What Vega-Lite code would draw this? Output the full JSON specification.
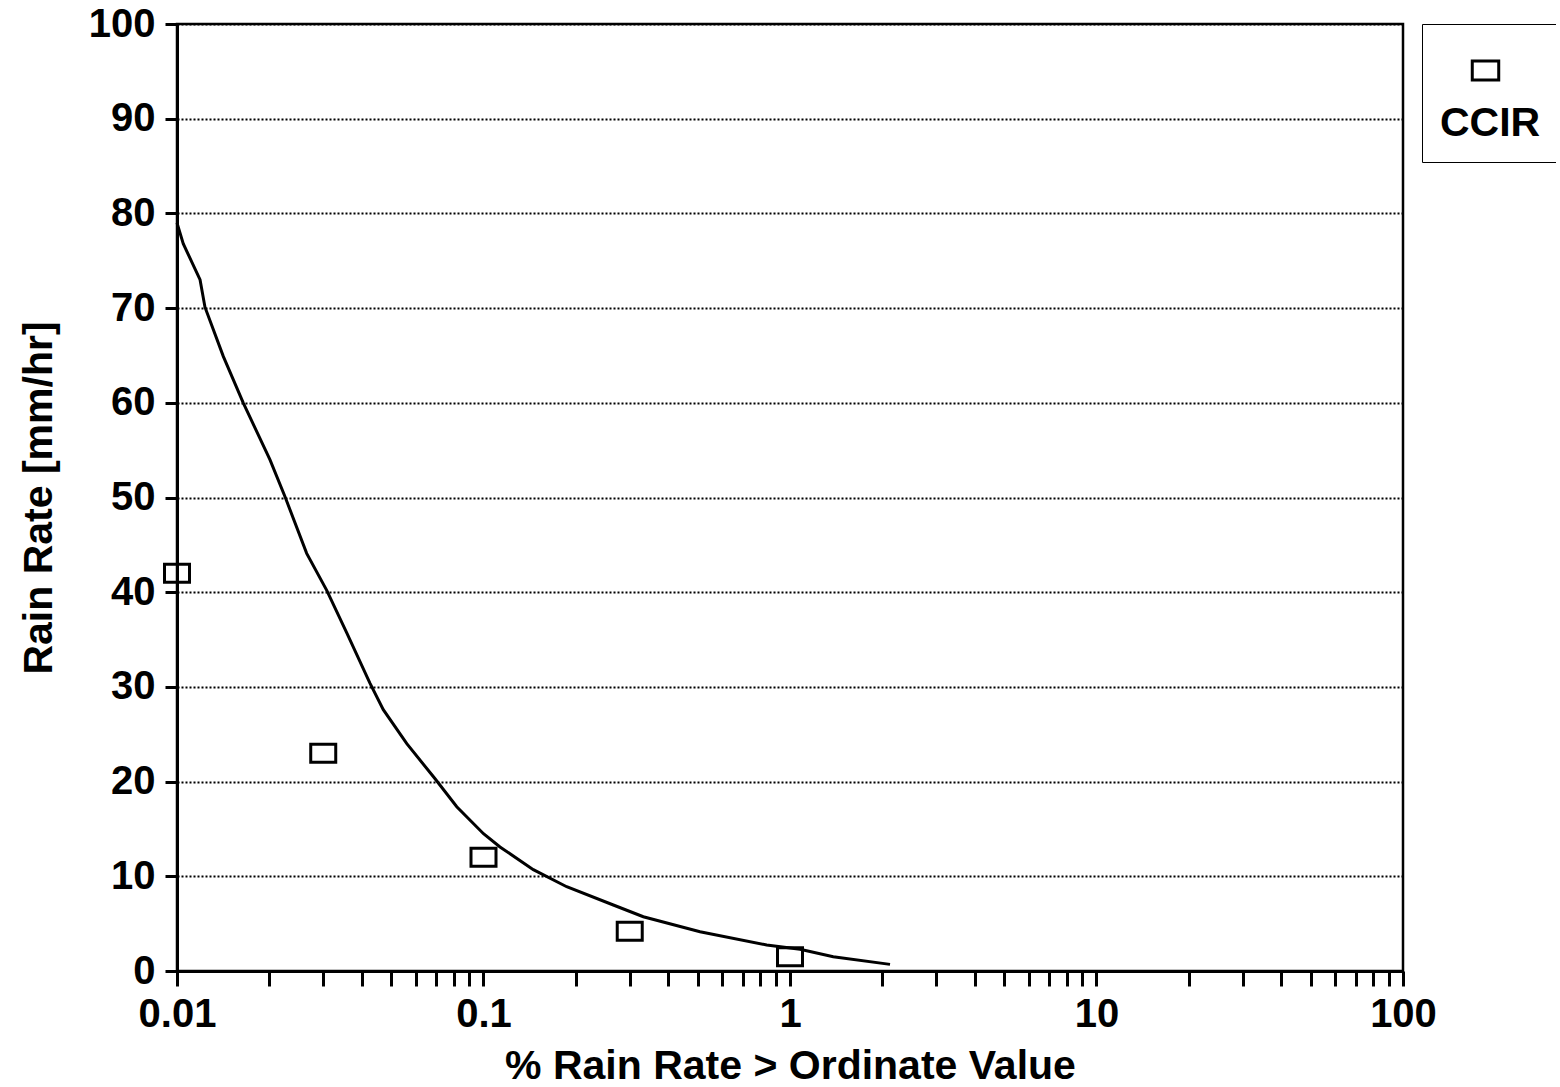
{
  "$schema": "https://vega.github.io/schema/vega-lite/v6.json",
  "width": 1226,
  "height": 947,
  "autosize": {"type": "none"},
  "padding": {"left": 177, "top": 24, "right": 153, "bottom": 116},
  "background": "white",
  "config": {
    "font": "Liberation Sans",
    "view": {"stroke": "black", "strokeWidth": 2.5},
    "axis": {
      "domainColor": "black",
      "domainWidth": 3,
      "tickColor": "black",
      "tickWidth": 3,
      "labelColor": "black",
      "labelFontSize": 40,
      "labelFontWeight": "bold",
      "titleColor": "black",
      "titleFontSize": 41,
      "titleFontWeight": "bold"
    }
  },
  "datasets": {
    "model": [
      {"pct": 0.01, "rate": 79.0},
      {"pct": 0.01048, "rate": 76.8},
      {"pct": 0.01189, "rate": 73.0},
      {"pct": 0.01234, "rate": 70.1},
      {"pct": 0.01416, "rate": 64.9},
      {"pct": 0.01645, "rate": 60.0},
      {"pct": 0.0201, "rate": 54.0},
      {"pct": 0.0225, "rate": 50.1},
      {"pct": 0.02649, "rate": 44.1},
      {"pct": 0.0308, "rate": 40.2},
      {"pct": 0.0358, "rate": 35.7},
      {"pct": 0.0426, "rate": 30.4},
      {"pct": 0.0471, "rate": 27.6},
      {"pct": 0.0562, "rate": 24.0},
      {"pct": 0.0695, "rate": 20.3},
      {"pct": 0.0818, "rate": 17.35},
      {"pct": 0.1, "rate": 14.5},
      {"pct": 0.1132, "rate": 13.1},
      {"pct": 0.1454, "rate": 10.7},
      {"pct": 0.1868, "rate": 8.9},
      {"pct": 0.2652, "rate": 6.97},
      {"pct": 0.3322, "rate": 5.73},
      {"pct": 0.5087, "rate": 4.15},
      {"pct": 0.8395, "rate": 2.75},
      {"pct": 1.078, "rate": 2.29},
      {"pct": 1.384, "rate": 1.51},
      {"pct": 2.12, "rate": 0.7}
    ],
    "ccir": [
      {"pct": 0.01, "rate": 42, "series": "CCIR"},
      {"pct": 0.03, "rate": 23, "series": "CCIR"},
      {"pct": 0.1, "rate": 12, "series": "CCIR"},
      {"pct": 0.3, "rate": 4.2, "series": "CCIR"},
      {"pct": 1, "rate": 1.5, "series": "CCIR"}
    ]
  },
  "encoding": {
    "x": {
      "field": "pct",
      "type": "quantitative",
      "scale": {"type": "log", "domain": [0.01, 100]},
      "axis": {
        "title": "% Rain Rate > Ordinate Value",
        "grid": false,
        "values": [0.01, 0.02, 0.03, 0.04, 0.05, 0.06, 0.07, 0.08, 0.09,
                   0.1, 0.2, 0.3, 0.4, 0.5, 0.6, 0.7, 0.8, 0.9,
                   1, 2, 3, 4, 5, 6, 7, 8, 9,
                   10, 20, 30, 40, 50, 60, 70, 80, 90, 100],
        "labelExpr": "indexof([0.01, 0.1, 1, 10, 100], datum.value) >= 0 ? format(datum.value, '~g') : ''",
        "labelOverlap": false,
        "labelFlush": false,
        "tickSize": 15,
        "labelPadding": 8,
        "titlePadding": 12
      }
    },
    "y": {
      "field": "rate",
      "type": "quantitative",
      "scale": {"domain": [0, 100], "nice": false},
      "axis": {
        "title": "Rain Rate [mm/hr]",
        "values": [0, 10, 20, 30, 40, 50, 60, 70, 80, 90, 100],
        "grid": true,
        "gridColor": "black",
        "gridDash": [2, 2],
        "gridWidth": 2,
        "gridOpacity": 1,
        "tickSize": 12,
        "labelPadding": 10,
        "titlePadding": 28
      }
    }
  },
  "layer": [
    {
      "data": {"name": "model"},
      "mark": {"type": "line", "color": "black", "strokeWidth": 3}
    },
    {
      "data": {"name": "ccir"},
      "mark": {
        "type": "point",
        "filled": false,
        "stroke": "black",
        "strokeWidth": 3,
        "opacity": 1,
        "size": 625
      },
      "encoding": {
        "shape": {
          "field": "series",
          "type": "nominal",
          "scale": {"range": ["M-1,-0.72H1V0.72H-1Z"]},
          "legend": {
            "orient": "right",
            "offset": 19,
            "title": "CCIR",
            "titleOrient": "bottom",
            "titleFontSize": 41,
            "titleFontWeight": "bold",
            "titleColor": "black",
            "titlePadding": 5,
            "labelExpr": "' '",
            "labelFontSize": 57,
            "symbolSize": 700,
            "symbolStrokeWidth": 3,
            "symbolStrokeColor": "black",
            "symbolFillColor": "transparent",
            "symbolOffset": 17,
            "strokeColor": "black",
            "fillColor": "white",
            "padding": 18
          }
        }
      }
    }
  ]
}
